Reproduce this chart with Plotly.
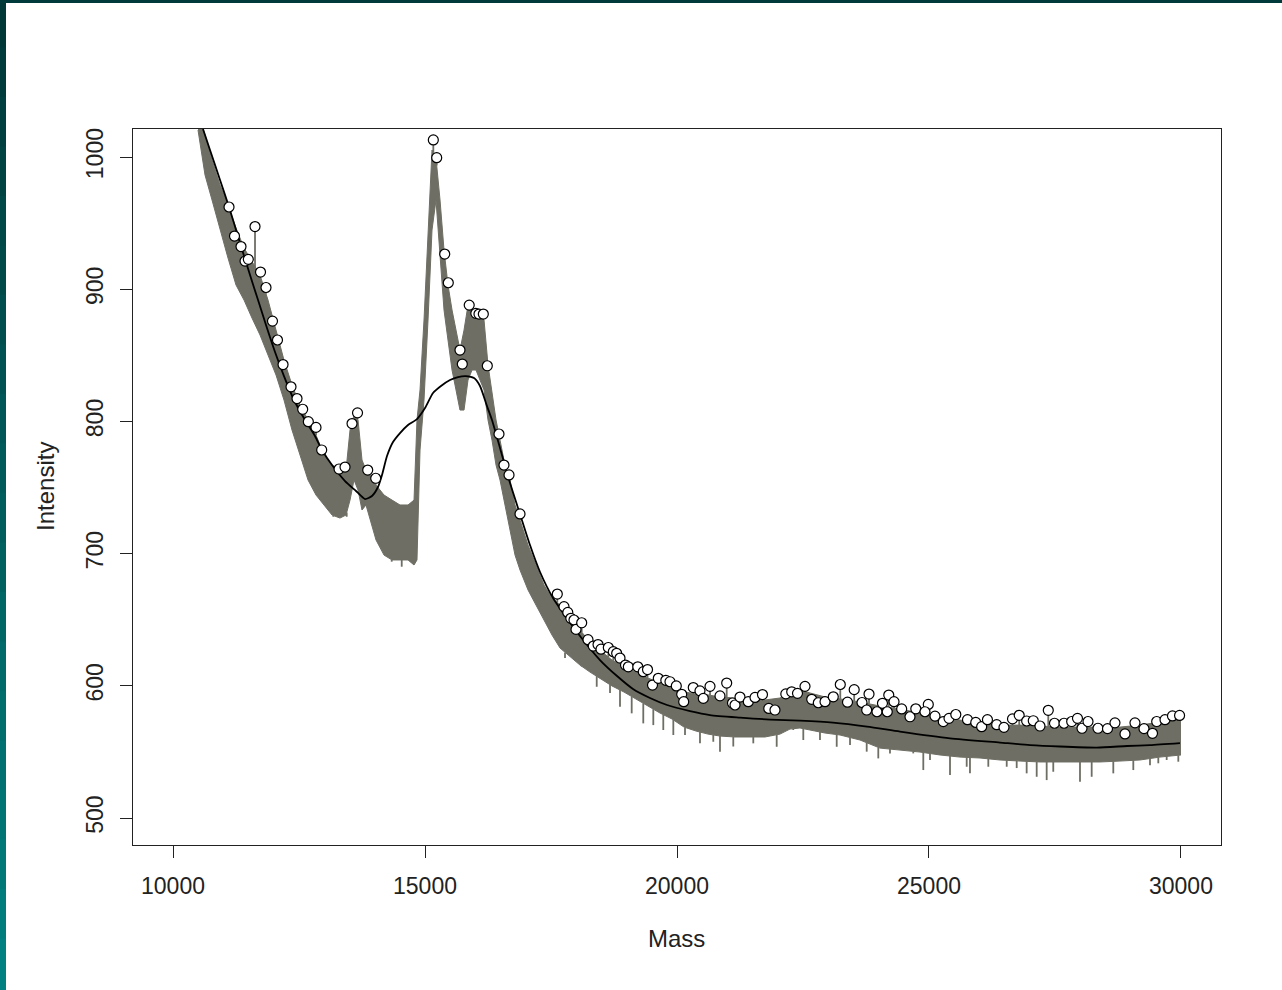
import numpy as np
import plotly.graph_objects as go

# ---------------- data ----------------
# Gray raw spectrum drawn as a band: lower / upper envelope of the noisy trace
band_mass = [10496, 10635, 10774, 10933, 11091, 11250, 11409, 11567, 11726, 11885,
             12044, 12202, 12361, 12520, 12679, 12837, 12996, 13155, 13313, 13433,
             13512, 13591, 13671, 13750, 13829, 13909, 14028, 14187, 14345, 14504,
             14663, 14782, 14841, 14901, 14980, 15060, 15139, 15218, 15298, 15377,
             15456, 15536, 15615, 15694, 15774, 15853, 15933, 16012, 16091, 16171,
             16250, 16329, 16409, 16488, 16587, 16687, 16786, 16885, 17044, 17202,
             17361, 17520, 17679, 17877, 18075, 18274, 18472, 18710, 18948, 19187,
             19425, 19663, 19901, 20139, 20377, 20615, 20853, 21151, 21448, 21746,
             22044, 22242, 22440, 22639, 22937, 23234, 23631, 24028, 24425, 24821,
             25218, 25615, 26012, 26409, 26806, 27202, 27599, 27996, 28393, 28790,
             29187, 29583, 30000]
band_high = [1031.8, 1016.6, 997.7, 978.8, 963.7, 946.3, 931.2, 920.6, 910.7, 891.8,
             869.1, 846.4, 827.5, 812.4, 801.1, 789.7, 774.6, 767.0, 763.2, 763.2,
             793.5, 804.8, 801.1, 770.8, 763.2, 759.5, 751.9, 744.3, 740.5, 736.8,
             736.8, 740.5, 801.1, 823.8, 876.7, 937.2, 1005.3, 999.2, 967.5, 929.7,
             903.2, 884.3, 869.1, 854.0, 869.1, 888.0, 882.8, 881.2, 880.5, 876.7,
             842.7, 820.0, 801.1, 785.9, 767.0, 755.7, 736.8, 725.4, 706.5, 691.4,
             676.2, 666.4, 661.1, 649.8, 642.2, 633.1, 627.1, 619.5, 614.9, 610.4,
             605.9, 602.1, 598.4, 595.4, 593.9, 593.1, 591.6, 590.8, 590.8, 589.3,
             590.8, 594.6, 596.9, 594.6, 591.6, 590.1, 587.8, 584.7, 582.5, 579.4,
             576.4, 574.1, 571.8, 570.3, 570.3, 569.6, 568.8, 568.8, 568.8, 568.8,
             570.3, 572.6, 575.6]
band_low = [1020.4, 986.4, 967.5, 944.8, 923.6, 903.2, 891.8, 878.2, 865.4, 850.2,
            835.1, 816.2, 793.5, 774.6, 755.7, 744.3, 736.8, 729.2, 726.9, 729.2,
            740.5, 755.7, 748.1, 733.0, 736.8, 725.4, 710.3, 698.9, 695.2, 695.2,
            695.2, 691.4, 695.2, 778.4, 816.2, 876.7, 944.8, 967.5, 922.1, 884.3,
            861.6, 838.9, 823.8, 808.6, 808.6, 831.3, 838.9, 838.9, 831.3, 823.8,
            801.1, 785.9, 767.0, 755.7, 736.8, 717.9, 698.9, 687.6, 672.5, 661.1,
            649.8, 638.4, 628.6, 621.8, 615.7, 610.4, 605.9, 599.9, 595.3, 590.0,
            584.7, 579.4, 574.9, 568.8, 565.8, 563.5, 562.0, 561.3, 561.3, 561.3,
            563.5, 567.3, 568.1, 566.6, 564.3, 562.8, 559.0, 552.9, 551.4, 549.9,
            547.7, 546.1, 545.4, 543.9, 543.1, 542.4, 542.4, 542.4, 542.4, 543.1,
            543.9, 546.1, 547.7]

# Deep downward noise spikes below the dense band
spike_mass = [17778, 18109, 18407, 18671, 18869, 19101, 19331, 19530, 19728, 19927,
              20159, 20456, 20720, 20853, 21117, 21514, 21978, 22307, 22506, 22837,
              23169, 23433, 23764, 23994, 24226, 24688, 24887, 25020, 25417, 25748,
              25813, 26177, 26542, 26740, 26938, 27137, 27335, 27466, 27996, 28228,
              28657, 29054, 29385, 29550, 29716, 29947,
              13181, 13446, 14173, 14339, 14538, 14736]
spike_low = [621.0, 614.4, 599.3, 594.6, 584.2, 579.2, 571.6, 570.3, 566.6, 562.8,
             562.8, 556.5, 557.7, 550.2, 554.1, 556.5, 553.9, 566.6, 559.0, 559.0,
             553.9, 555.2, 550.2, 545.1, 548.9, 548.9, 536.3, 543.9, 532.6, 538.8,
             533.8, 538.8, 538.8, 537.8, 533.8, 531.2, 528.7, 535.0, 527.5, 531.2,
             533.8, 536.3, 540.0, 541.4, 543.9, 542.6,
             727.9, 727.9, 700.2, 693.9, 690.1, 695.2]

# Smoothed baseline (black curve)
smooth_mass = [10595, 10734, 10933, 11111, 11329, 11528, 11687, 11845, 12024, 12202,
               12401, 12619, 12817, 12956, 13155, 13413, 13631, 13810, 13948, 14067,
               14147, 14246, 14365, 14504, 14663, 14841, 15000, 15159, 15317, 15496,
               15655, 15813, 15972, 16091, 16230, 16329, 16488, 16687, 16885, 17083,
               17282, 17540, 17798, 18075, 18472, 18810, 19127, 19464, 19802, 20258,
               20655, 21250, 21845, 22440, 23095, 23770, 24425, 25417, 26409, 27004,
               27599, 28333, 28929, 29385, 29980]
smooth_int = [1021.2, 1005.3, 982.6, 962.2, 935.0, 910.7, 891.8, 872.9, 852.5, 834.3,
              816.2, 801.1, 789.0, 778.4, 767.0, 754.9, 747.4, 741.3, 743.6, 750.4,
              759.5, 773.8, 784.4, 791.2, 797.3, 801.8, 810.1, 821.5, 826.8, 831.3,
              833.6, 834.3, 832.8, 826.8, 811.6, 801.1, 779.9, 753.4, 729.9, 706.5,
              686.1, 666.4, 652.0, 637.7, 619.5, 607.4, 597.6, 590.8, 585.5, 580.9,
              577.9, 576.0, 574.5, 573.7, 572.2, 569.2, 565.4, 560.3, 557.1, 555.2,
              554.1, 553.3, 554.5, 555.2, 556.7]

# Detected peaks (open circles)
peak_mass = [11111, 11220, 11349, 11429, 11494, 11627, 11736, 11845, 11974, 12073,
             12183, 12341, 12460, 12573, 12685, 12837, 12950, 13294, 13413, 13552,
             13661, 13863, 14022, 15165, 15232, 15391, 15462, 15694, 15740, 15877,
             16008, 16071, 16157, 16236, 16468, 16567, 16667, 16885, 17625, 17758,
             17833, 17893, 17956, 17996, 18109, 18234, 18339, 18433, 18492, 18637,
             18736, 18803, 18869, 18978, 19034, 19222, 19331, 19415, 19514, 19629,
             19778, 19861, 19986, 20093, 20133, 20323, 20456, 20522, 20655, 20853,
             20986, 21101, 21151, 21250, 21415, 21548, 21696, 21821, 21944, 22159,
             22276, 22391, 22540, 22673, 22804, 22937, 23101, 23240, 23383, 23516,
             23671, 23810, 23764, 23968, 24077, 24202, 24172, 24306, 24458, 24623,
             24738, 24986, 24920, 25119, 25284, 25397, 25532, 25764, 25928, 26045,
             26160, 26343, 26488, 26657, 26790, 26938, 27069, 27202, 27367, 27490,
             27679, 27831, 27946, 28036, 28155, 28353, 28542, 28690, 28889, 29087,
             29266, 29435, 29518, 29683, 29831, 29972]
peak_int = [962.2, 940.2, 932.3, 921.3, 922.6, 947.4, 913.0, 901.3, 875.9, 861.6,
            843.0, 826.2, 817.3, 809.2, 799.8, 795.5, 778.4, 764.0, 765.5, 798.4,
            806.5, 763.2, 757.0, 1012.9, 999.5, 926.6, 904.9, 854.0, 843.4, 888.0,
            881.8, 881.2, 881.2, 842.1, 790.5, 767.0, 759.5, 730.0, 669.4, 659.9,
            655.5, 651.1, 649.8, 642.7, 647.7, 634.9, 630.1, 631.2, 627.7, 629.0,
            625.8, 624.6, 621.0, 615.7, 614.4, 614.4, 610.7, 612.3, 600.6, 605.7,
            604.2, 603.1, 599.9, 593.6, 588.0, 598.7, 596.2, 590.5, 599.6, 592.4,
            602.1, 587.0, 585.5, 591.5, 588.0, 591.2, 593.4, 582.9, 581.7, 593.9,
            595.5, 594.3, 599.6, 589.8, 587.2, 588.0, 591.7, 601.0, 587.6, 597.1,
            587.4, 593.8, 581.7, 580.4, 586.8, 593.0, 580.4, 588.0, 582.5, 576.6,
            582.6, 585.9, 580.4, 577.1, 572.9, 575.4, 578.3, 574.4, 572.3, 569.1,
            574.4, 570.6, 568.6, 575.0, 577.7, 573.4, 573.6, 569.6, 581.5, 571.7,
            571.7, 573.0, 575.4, 567.9, 573.0, 567.9, 567.6, 572.0, 563.6, 572.0,
            567.6, 564.1, 573.0, 574.4, 577.2, 577.6]

x_ticks = [10000, 15000, 20000, 25000, 30000]
y_ticks = [500, 600, 700, 800, 900, 1000]
x_title = "Mass"
y_title = "Intensity"

# ---------------- figure ----------------
GRAY = "rgb(110,110,100)"
FONT = "Liberation Sans, Arial, sans-serif"

# vertical gray strokes: from each peak down into the band, and from each
# downward spike up into the band (end points taken from the data arrays)
stem_x, stem_y = [], []
for m, v in zip(peak_mass, peak_int):
    base = float(np.interp(m, band_mass, band_high))
    stem_x += [m, m, None]
    stem_y += [v, min(v, base), None]
for m, v in zip(spike_mass, spike_low):
    top = float(np.interp(m, band_mass, band_low))
    stem_x += [m, m, None]
    stem_y += [v, max(v, top), None]

fig = go.Figure()
fig.add_trace(go.Scatter(x=band_mass, y=band_low, mode="lines",
                         line=dict(color=GRAY, width=1), hoverinfo="skip",
                         showlegend=False))
fig.add_trace(go.Scatter(x=band_mass, y=band_high, mode="lines",
                         line=dict(color=GRAY, width=1), fill="tonexty",
                         fillcolor=GRAY, hoverinfo="skip", showlegend=False))
fig.add_trace(go.Scatter(x=stem_x, y=stem_y, mode="lines",
                         line=dict(color=GRAY, width=1.8), hoverinfo="skip",
                         showlegend=False, connectgaps=False))
fig.add_trace(go.Scatter(x=smooth_mass, y=smooth_int, mode="lines",
                         line=dict(color="black", width=1.8, shape="spline",
                                   smoothing=0.6),
                         showlegend=False))
fig.add_trace(go.Scatter(x=peak_mass, y=peak_int, mode="markers",
                         marker=dict(symbol="circle", size=10, color="white",
                                     line=dict(color="black", width=1.2)),
                         showlegend=False))

W, H = 1282, 990
ML, MR, MT, MB = 133, 61, 129, 145
PW, PH = W - ML - MR, H - MT - MB


def px(xp):
    return (xp - ML) / PW


def py(yp):
    return (H - MB - yp) / PH


shapes = []
# dark teal frame strips (top and left edge of the window)
n = 20
for i in range(n):
    t = i / (n - 1)
    g = int(56 + t * (128 - 56))
    shapes.append(dict(type="rect", xref="paper", yref="paper",
                       x0=px(0), x1=px(6),
                       y0=py(min(H, H * (i + 1) / n + 2)), y1=py(max(0, H * i / n - 2)),
                       fillcolor=f"rgb(0,{g},{g})", line=dict(width=0),
                       layer="above"))
shapes.append(dict(type="rect", xref="paper", yref="paper",
                   x0=px(0), x1=px(W), y0=py(3), y1=py(0),
                   fillcolor="rgb(0,58,58)", line=dict(width=0), layer="above"))

axis_common = dict(showgrid=False, zeroline=False, showline=True, mirror=True,
                   linecolor="#222", linewidth=1.2, ticks="outside", ticklen=12,
                   tickcolor="#222", tickwidth=1.2,
                   tickfont=dict(family=FONT, size=23, color="#222"))

fig.update_layout(
    width=W, height=H,
    margin=dict(l=ML, r=MR, t=MT, b=MB, pad=0),
    paper_bgcolor="white", plot_bgcolor="white",
    xaxis=dict(range=[9206, 30794], tickvals=x_ticks,
               ticktext=[str(v) for v in x_ticks], ticklabelstandoff=8,
               **axis_common),
    yaxis=dict(range=[479.6, 1021.2], tickvals=y_ticks,
               ticktext=[str(v) for v in y_ticks], tickangle=-90,
               ticklabelstandoff=8, **axis_common),
    shapes=shapes,
    annotations=[
        dict(text=x_title, xref="paper", yref="paper", x=px(676), y=py(938),
             xanchor="center", yanchor="middle", showarrow=False,
             font=dict(family=FONT, size=24, color="#222")),
        dict(text=y_title, xref="paper", yref="paper", x=px(45), y=py(487),
             xanchor="center", yanchor="middle", showarrow=False, textangle=-90,
             font=dict(family=FONT, size=24, color="#222")),
    ],
)

fig.write_html("out.html")
